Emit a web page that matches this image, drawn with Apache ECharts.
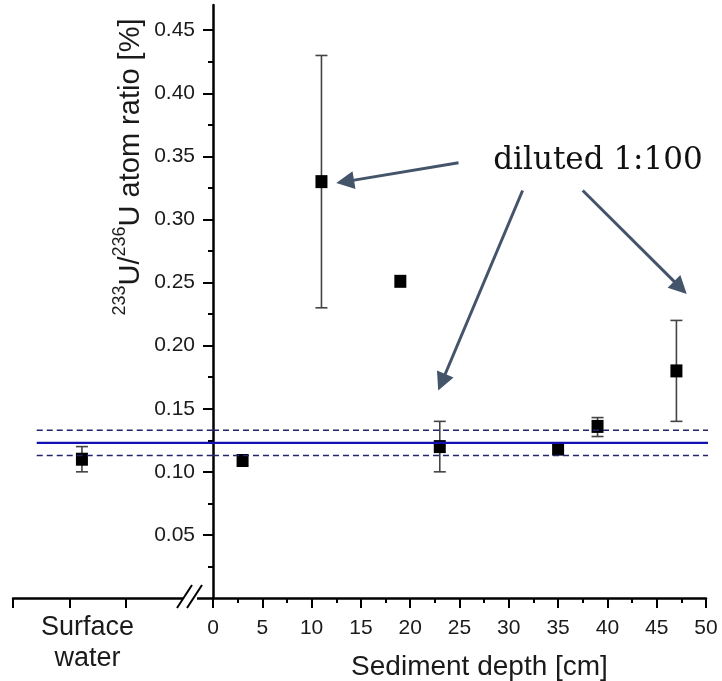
<!DOCTYPE html>
<html>
<head>
<meta charset="utf-8">
<script src="https://cdn.jsdelivr.net/npm/echarts@6/dist/echarts.min.js"></script>
<style>
html,body{margin:0;padding:0;background:#fff;}
#chart{width:722px;height:681px;}
</style>
</head>
<body>
<div id="chart"></div>
<script>
// ---- data ----
const depthCm   = [3, 11, 19, 23, 35, 39, 47];
const ratioPct  = [0.109, 0.330, 0.251, 0.120, 0.118, 0.136, 0.180];
const errLow    = [null, 0.230, null, 0.100, null, 0.128, 0.140];
const errHigh   = [null, 0.430, null, 0.140, null, 0.143, 0.220];

const surfaceLabel = 'Surface\nwater';
const surfaceRatio = [0.110];
const surfaceLow   = [0.100];
const surfaceHigh  = [0.120];

const meanRatio  = 0.123;
const meanUpper  = 0.133;
const meanLower  = 0.113;

const xTickMajor = [0, 5, 10, 15, 20, 25, 30, 35, 40, 45, 50];
const yTickMajor = [0.05, 0.10, 0.15, 0.20, 0.25, 0.30, 0.35, 0.40, 0.45];
const yTickMinor = [0.025, 0.075, 0.125, 0.175, 0.225, 0.275, 0.325, 0.375, 0.425];

const annotationText = 'diluted 1:100';
// arrows (data coordinates of start and tip)
const arrows = [
  [[24.9, 0.345], [13.4, 0.330]],
  [[31.4, 0.323], [23.2, 0.171]],
  [[37.5, 0.323], [47.4, 0.246]]
];

// ---- layout constants (left broken-axis section) ----
const surfaceX = 1.22;      // position of the surface-water point in the left section
const surfaceLabelX = 1.32;
const leftMax = 3.54;
const yMax = 0.47;

const FONT = "'Liberation Sans', Arial, sans-serif";

const mainData = depthCm.map((d, i) => [d, ratioPct[i]]);
const errData = depthCm.map((d, i) => [d, errLow[i], errHigh[i]]).filter(r => r[1] !== null);
const surfData = surfaceRatio.map(v => [surfaceX, v]);
const surfErr = surfaceRatio.map((v, i) => [surfaceX, surfaceLow[i], surfaceHigh[i]]);

function errRender(params, api) {
  const x = api.value(0), lo = api.value(1), hi = api.value(2);
  const pHi = api.coord([x, hi]);
  const pLo = api.coord([x, lo]);
  const w = 6;
  const st = { stroke: '#444', lineWidth: 1.6 };
  return {
    type: 'group',
    children: [
      { type: 'line', shape: { x1: pHi[0], y1: pHi[1], x2: pLo[0], y2: pLo[1] }, style: st },
      { type: 'line', shape: { x1: pHi[0] - w, y1: pHi[1], x2: pHi[0] + w, y2: pHi[1] }, style: st },
      { type: 'line', shape: { x1: pLo[0] - w, y1: pLo[1], x2: pLo[0] + w, y2: pLo[1] }, style: st }
    ]
  };
}

const chart = echarts.init(document.getElementById('chart'), null, { renderer: 'canvas' });

const axisLineStyle = { color: '#000', width: 2.5 };
const headPath = 'path://M6,0 L12,17 L0,17 Z';

const option = {
  backgroundColor: '#fff',
  animation: false,
  grid: [
    { left: 13, width: 200, top: 5, bottom: 83, containLabel: false, outerBoundsMode: 'none' },
    { left: 213, right: 16, top: 5, bottom: 83, containLabel: false, outerBoundsMode: 'none' }
  ],
  xAxis: [
    {
      gridIndex: 0, type: 'value', min: 0, max: leftMax,
      axisLine: { show: true, onZero: false, lineStyle: axisLineStyle },
      axisTick: { show: true, length: 10, customValues: [0, 1, 2], lineStyle: { color: '#000', width: 2 } },
      axisLabel: {
        show: true, customValues: [surfaceLabelX], formatter: () => surfaceLabel,
        fontFamily: FONT, fontSize: 27, lineHeight: 31, color: '#1a1a1a', margin: 14
      },
      splitLine: { show: false }
    },
    {
      gridIndex: 1, type: 'value', min: 0, max: 50, interval: 5,
      axisLine: { show: true, onZero: false, lineStyle: axisLineStyle },
      axisTick: { show: true, length: 10, lineStyle: { color: '#000', width: 2 } },
      minorTick: { show: true, splitNumber: 2, length: 5, lineStyle: { color: '#000', width: 2 } },
      axisLabel: { fontFamily: FONT, fontSize: 21, color: '#1a1a1a', margin: 20 },
      splitLine: { show: false },
      name: 'Sediment depth [cm]', nameLocation: 'middle', nameGap: 55,
      nameTextStyle: { fontFamily: FONT, fontSize: 28, color: '#1a1a1a', padding: [0, 0, 0, 40] }
    }
  ],
  yAxis: [
    { gridIndex: 0, type: 'value', min: 0, max: yMax, show: false },
    {
      gridIndex: 1, type: 'value', min: 0, max: yMax, position: 'left',
      axisLine: { show: true, onZero: false, lineStyle: axisLineStyle },
      axisTick: { show: true, length: 10, customValues: yTickMajor, lineStyle: { color: '#000', width: 2 } },
      axisLabel: {
        customValues: yTickMajor, formatter: v => v.toFixed(2),
        fontFamily: FONT, fontSize: 21, color: '#1a1a1a', margin: 18
      },
      splitLine: { show: false }
    },
    {
      gridIndex: 1, type: 'value', min: 0, max: yMax, position: 'left',
      axisLine: { show: false },
      axisTick: { show: true, length: 5, customValues: yTickMinor, lineStyle: { color: '#000', width: 2 } },
      axisLabel: { show: false },
      splitLine: { show: false }
    }
  ],
  series: [
    // left section
    { type: 'custom', xAxisIndex: 0, yAxisIndex: 0, renderItem: errRender, data: surfErr, encode: { x: 0, y: [1, 2] }, z: 2 },
    { type: 'scatter', xAxisIndex: 0, yAxisIndex: 0, data: surfData, symbol: 'rect', symbolSize: [12, 13], itemStyle: { color: '#000', opacity: 1 }, z: 3 },
    { type: 'line', xAxisIndex: 0, yAxisIndex: 0, data: [[0.42, meanRatio], [leftMax, meanRatio]], symbol: 'none', clip: false, lineStyle: { color: '#1212b4', width: 2.2 }, z: 4 },
    { type: 'line', xAxisIndex: 0, yAxisIndex: 0, data: [[0.42, meanUpper], [leftMax, meanUpper]], symbol: 'none', clip: false, lineStyle: { color: '#24246e', width: 1.6, type: [6, 4] }, z: 4 },
    { type: 'line', xAxisIndex: 0, yAxisIndex: 0, data: [[0.42, meanLower], [leftMax, meanLower]], symbol: 'none', clip: false, lineStyle: { color: '#24246e', width: 1.6, type: [6, 4] }, z: 4 },
    // right section
    { type: 'custom', xAxisIndex: 1, yAxisIndex: 1, renderItem: errRender, data: errData, encode: { x: 0, y: [1, 2] }, z: 2 },
    { type: 'scatter', xAxisIndex: 1, yAxisIndex: 1, data: mainData, symbol: 'rect', symbolSize: [12, 13], itemStyle: { color: '#000', opacity: 1 }, z: 3 },
    { type: 'line', xAxisIndex: 1, yAxisIndex: 1, data: [[0, meanRatio], [50.3, meanRatio]], symbol: 'none', clip: false, lineStyle: { color: '#1212b4', width: 2.2 }, z: 4 },
    { type: 'line', xAxisIndex: 1, yAxisIndex: 1, data: [[0, meanUpper], [50.6, meanUpper]], symbol: 'none', clip: false, lineStyle: { color: '#24246e', width: 1.6, type: [6, 4] }, z: 4 },
    { type: 'line', xAxisIndex: 1, yAxisIndex: 1, data: [[0, meanLower], [50.6, meanLower]], symbol: 'none', clip: false, lineStyle: { color: '#24246e', width: 1.6, type: [6, 4] }, z: 4 },
    // annotation arrows
    {
      type: 'line', xAxisIndex: 1, yAxisIndex: 1, data: [], z: 5,
      markLine: {
        silent: true, animation: false,
        symbol: ['none', headPath], symbolSize: 18,
        label: { show: false },
        itemStyle: { color: '#44546a' },
        lineStyle: { color: '#44546a', width: 3, type: 'solid' },
        emphasis: { disabled: true },
        data: arrows.map(a => [{ coord: a[0] }, { coord: a[1] }])
      }
    }
  ],
  graphic: [
    // axis break
    { type: 'rect', shape: { x: 183, y: 591, width: 14, height: 12 }, style: { fill: '#fff' }, z: 100 },
    { type: 'line', shape: { x1: 177, y1: 608, x2: 192, y2: 585 }, style: { stroke: '#000', lineWidth: 2 }, z: 101 },
    { type: 'line', shape: { x1: 187, y1: 608, x2: 202, y2: 585 }, style: { stroke: '#000', lineWidth: 2 }, z: 101 },
    // y-axis title
    {
      type: 'text', x: 128, y: 167, rotation: Math.PI / 2, z: 100,
      style: {
        text: '{s|233}{m|U/}{s|236}{m|U atom ratio [%]}',
        align: 'center', verticalAlign: 'middle',
        fill: '#1a1a1a',
        rich: {
          s: { fontFamily: FONT, fontSize: 18, lineHeight: 34, verticalAlign: 'top', fill: '#1a1a1a' },
          m: { fontFamily: FONT, fontSize: 29, lineHeight: 34, verticalAlign: 'bottom', fill: '#1a1a1a' }
        }
      }
    },
    // annotation text
    {
      type: 'text', x: 598, y: 161, z: 100,
      style: {
        text: annotationText, align: 'center', verticalAlign: 'middle',
        fontFamily: "'DejaVu Serif', serif", fontSize: 31, fill: '#111'
      }
    }
  ]
};

chart.setOption(option);
</script>
</body>
</html>
